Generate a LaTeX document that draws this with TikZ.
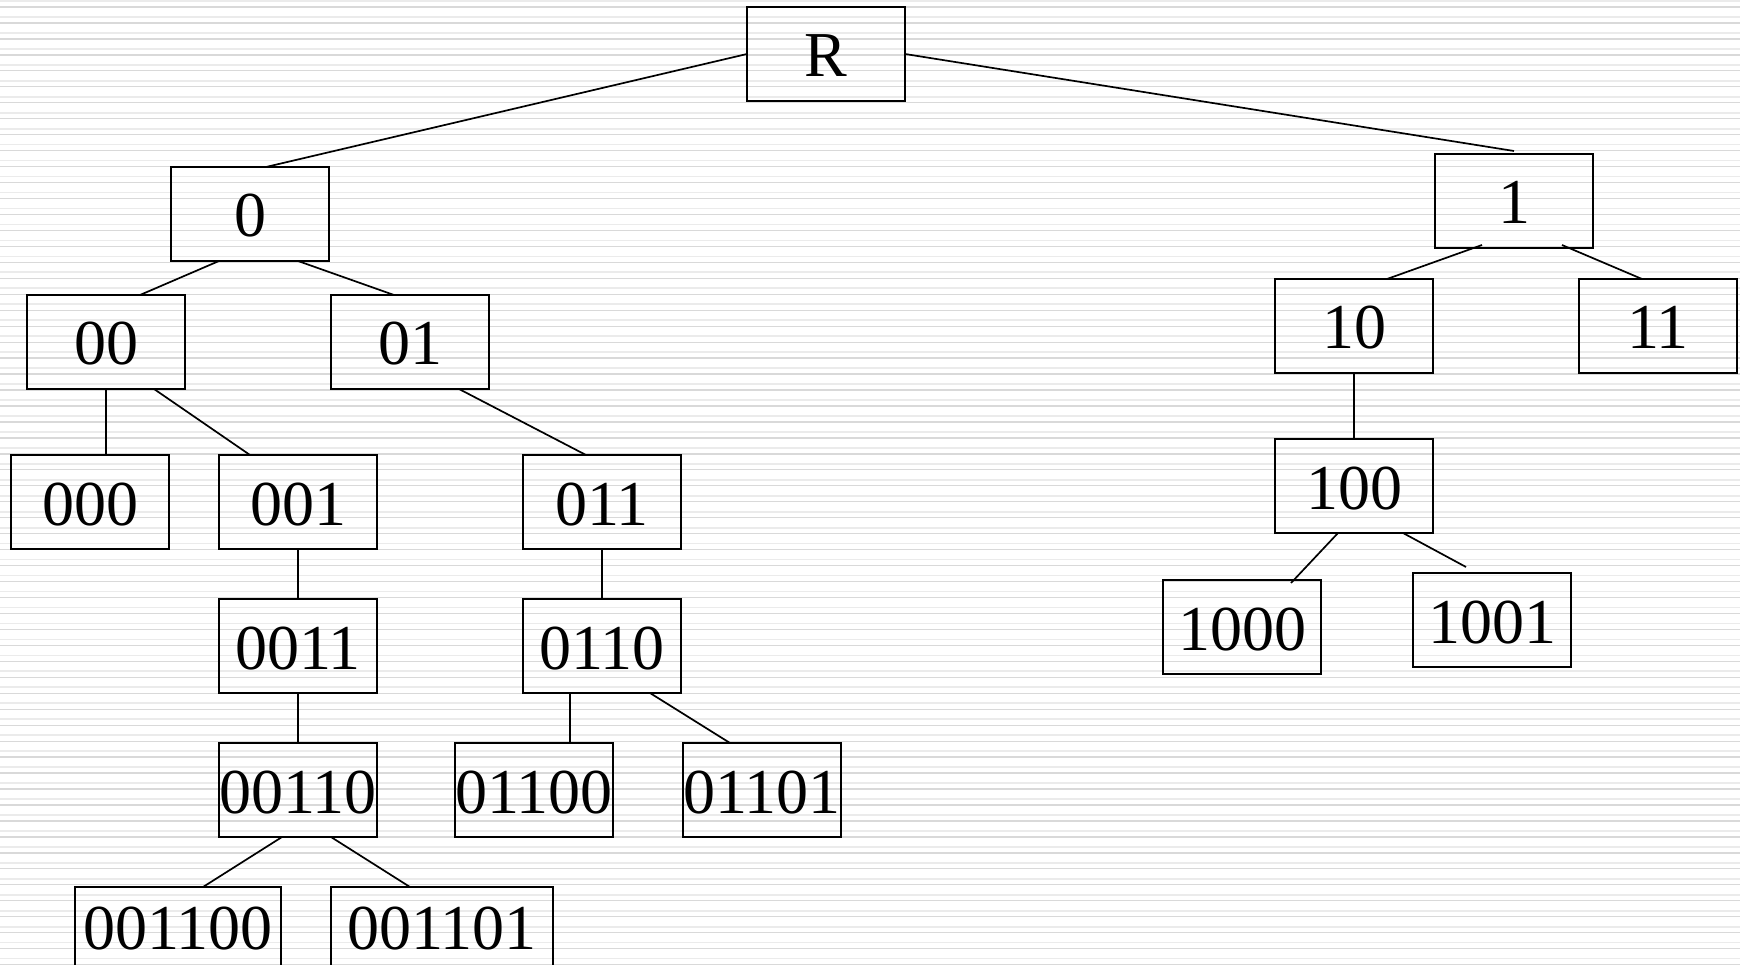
\documentclass[tikz,border=0pt]{standalone}
\usepackage{fontspec}
\setmainfont{Liberation Serif}
\usetikzlibrary{positioning}

\begin{document}
\begin{tikzpicture}[x=1pt,y=-1pt]
		\tikzset{edge/.style = {line width=1.7pt},
			box/.style = {draw, line width=1.8pt, outer sep=0pt, inner sep=0pt,
				minimum width=158pt, minimum height=94pt,
				font=\fontsize{64}{70}\selectfont, text height=46pt, text depth=0pt},
			stripea/.style = {line width=1.7pt, black!8},
			stripeb/.style = {line width=1.3pt, black!15}}
		\useasboundingbox (0,0) rectangle (1740,965);
		\clip (0,0) rectangle (1740,965);
		\fill[white] (0,0) rectangle (1740,965);
		\foreach \k in {0,...,60} {
			\draw[stripea] (0,{15.96*\k+1}) -- (1740,{15.96*\k+1});
			\draw[stripeb] (0,{15.96*\k+7}) -- (1740,{15.96*\k+7});
		}
		\node[box] (R) at (826,54) {R};
		\node[box] (n0) at (250,214) {0};
		\node[box] (n1) at (1514,201) {1};
		\node[box] (n00) at (106,342) {00};
		\node[box] (n01) at (410,342) {01};
		\node[box] (n10) at (1354,326) {10};
		\node[box] (n11) at (1658,326) {11};
		\node[box] (n000) at (90,502) {000};
		\node[box] (n001) at (298,502) {001};
		\node[box] (n011) at (602,502) {011};
		\node[box, below=66pt of n10] (n100) {100};
		\node[box, below=50pt of n001] (n0011) {0011};
		\node[box, below=50pt of n011] (n0110) {0110};
		\node[box, below=50pt of n0011] (n00110) {00110};
		\node[box] (n01100) at (534,790) {01100};
		\node[box] (n01101) at (762,790) {01101};
		\node[box] (n1000) at (1242,627) {1000};
		\node[box] (n1001) at (1492,620) {1001};
		\node[box, minimum width=206pt, text depth=16pt] (n001100) at (178,934) {001100};
		\node[box, minimum width=222pt, text depth=16pt] (n001101) at (442,934) {001101};
		\draw[edge] (R.west) -- ([xshift=16pt]n0.north);
		\draw[edge] (R.east) -- ([yshift=3pt]n1.north);
		\draw[edge] ([xshift=-31pt]n0.south) -- ([xshift=34pt]n00.north);
		\draw[edge] ([xshift=48pt]n0.south) -- ([xshift=-16pt]n01.north);
		\draw[edge] (n00.south) -- ([xshift=16pt]n000.north);
		\draw[edge] ([xshift=48pt]n00.south) -- ([xshift=-48pt]n001.north);
		\draw[edge] ([xshift=49pt]n01.south) -- ([xshift=-16pt]n011.north);
		\draw[edge] (n001.south) -- (n0011.north);
		\draw[edge] (n011.south) -- (n0110.north);
		\draw[edge] (n0011.south) -- (n00110.north);
		\draw[edge] ([xshift=-32pt]n0110.south) -- ([xshift=36pt]n01100.north);
		\draw[edge] ([xshift=48pt]n0110.south) -- ([xshift=-32pt]n01101.north);
		\draw[edge] ([xshift=-16pt]n00110.south) -- ([xshift=25pt]n001100.north);
		\draw[edge] ([xshift=33pt]n00110.south) -- ([xshift=-32pt]n001101.north);
		\draw[edge] ([xshift=-32pt,yshift=3pt]n1.south) -- ([xshift=33pt]n10.north);
		\draw[edge] ([xshift=48pt,yshift=3pt]n1.south) -- ([xshift=-16pt]n11.north);
		\draw[edge] (n10.south) -- (n100.north);
		\draw[edge] ([xshift=-16pt]n100.south) -- ([xshift=49pt,yshift=-3pt]n1000.north);
		\draw[edge] ([xshift=49pt]n100.south) -- ([xshift=-26pt,yshift=6pt]n1001.north);
	\end{tikzpicture}
\end{document}
